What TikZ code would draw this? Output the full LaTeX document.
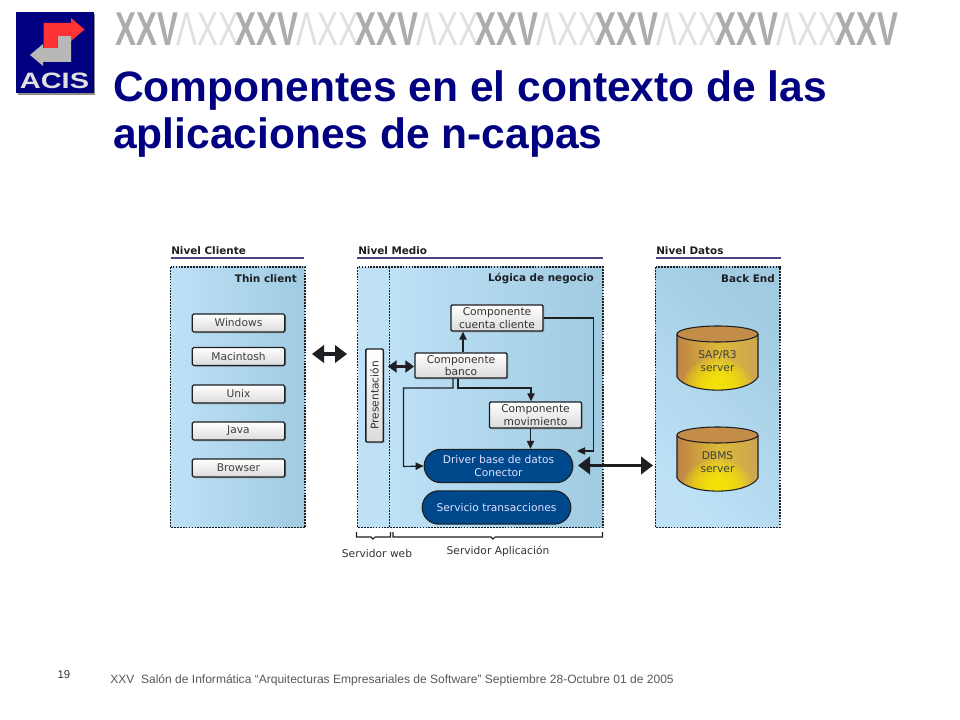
\documentclass[tikz,border=0pt]{standalone}
\usepackage{fontspec}
\setmainfont{Liberation Sans}
\newfontfamily\djv{DejaVu Sans}
\usetikzlibrary{arrows.meta,shapes.geometric,calc,shadows}
\definecolor{navy}{RGB}{0,0,128}
\definecolor{hdr}{RGB}{76,66,130}
\definecolor{pale}{RGB}{190,225,246}
\definecolor{deep}{RGB}{160,203,225}
\definecolor{ink}{RGB}{30,30,35}
\definecolor{drv}{RGB}{0,72,140}
\definecolor{brn}{RGB}{190,130,70}
\definecolor{yel}{RGB}{250,235,0}
\definecolor{tanc}{RGB}{205,165,80}
\tikzset{
 x=0.75pt,y=-0.75pt,
 panel/.style={draw=ink,line width=0.9pt,dash pattern=on 1.3pt off 0.9pt},
 hdrtxt/.style={font=\djv\bfseries\fontsize{7.8}{9}\selectfont,text=ink,anchor=base west,inner sep=0},
 cornertxt/.style={font=\djv\bfseries\fontsize{7.8}{9}\selectfont,text=ink,anchor=base east,inner sep=0},
 hdrline/.style={draw=hdr,line width=1pt},
 osbox/.style={draw=ink,line width=1pt,rounded corners=1.2pt,top color=white,bottom color=black!14,
   minimum width=69.5pt,minimum height=13.5pt,inner sep=0,text=black!75,
   font=\djv\fontsize{8}{9.5}\selectfont,drop shadow={shadow xshift=1pt,shadow yshift=-1pt,opacity=.45}},
 compbox/.style={draw=ink,line width=1pt,rounded corners=0.8pt,top color=white,bottom color=black!14,
   inner sep=0,text=black!80,align=center,font=\djv\fontsize{8}{9.5}\selectfont,
   drop shadow={shadow xshift=1pt,shadow yshift=-1pt,opacity=.45}},
 pill/.style={draw=ink,line width=0.8pt,rounded corners=12.5pt,fill=drv,text=white!88!blue,inner sep=0,
   minimum height=25pt,align=center,font=\djv\fontsize{8}{9.5}\selectfont},
 conn/.style={draw=ink,line width=0.85pt,-{Triangle[length=6pt,width=5.5pt]}},
 big/.style={draw=ink,line width=2.4pt,{Triangle[length=9pt,width=13pt]}-{Triangle[length=9pt,width=13pt]}},
 mid/.style={draw=ink,line width=1.6pt,{Triangle[length=6.5pt,width=9pt]}-{Triangle[length=6.5pt,width=9pt]}},
 brace/.style={draw=ink,line width=0.8pt},
 capt/.style={font=\djv\fontsize{8}{9.5}\selectfont,text=black!80,inner sep=0},
 dbtxt/.style={font=\djv\fontsize{8}{9.75}\selectfont,text=black!75,align=center,inner sep=0},
}
\newcommand{\dbcyl}[4]{% name, cx, top y, text
 \begin{scope}
 \clip (#2-40.5,#3) -- (#2-40.5,#3+43) .. controls (#2-30,#3+60.5) and (#2+30,#3+60.5) .. (#2+40.5,#3+43) -- (#2+40.5,#3) -- cycle;
 \shade[left color=brn,right color=tanc,middle color=tanc!70!yel] (#2-41,#3-1) rectangle (#2+41,#3+58);
 \foreach \r in {34,30,26,22,18,14,10}{\fill[yel,opacity=.22] (#2,#3+52) ellipse[x radius=\r,y radius=\r*.8];}
 \end{scope}
 \draw[ink,line width=.8pt] (#2-40.5,#3) -- (#2-40.5,#3+43) .. controls (#2-30,#3+60.5) and (#2+30,#3+60.5) .. (#2+40.5,#3+43) -- (#2+40.5,#3);
 \draw[ink,line width=.8pt,fill=brn!70!tanc] (#2,#3) ellipse[x radius=40.5,y radius=8];
 \node[dbtxt] (#1) at (#2,#3+27) {#4};
}
\begin{document}
\begin{tikzpicture}
\useasboundingbox (0,0) rectangle (960,720);
\fill[white] (0,0) rectangle (960,720);
% logo
\fill[black!45] (18,14) rectangle (95,95);
\fill[navy] (16,12) rectangle (93.5,93);
\fill[black!28] (57.5,36) -- (71,36) -- (71,62) -- (43,62) -- (43,66) -- (30,55) -- (43,44) -- (43,48) -- (57.5,48) -- cycle;
\fill[red!80!white] (43.5,23) -- (71,23) -- (71,18) -- (84.5,29.5) -- (71,41) -- (71,36) -- (57.5,36) -- (57.5,48) -- (43.5,48) -- cycle;
\node[font=\bfseries\fontsize{16.7}{17}\selectfont,text=black!12,inner sep=0] (logo) at (54.5,81) {\scalebox{1.3}[1]{ACIS}};
% banner
\foreach \i/\xx in {0/115,1/235,2/355,3/475,4/595,5/715,6/835}{
 \node[font=\bfseries\fontsize{35.6}{36}\selectfont,text=black!32,inner sep=0,anchor=base west] (bd\i) at (\xx,46) {\scalebox{.66}[1]{XXV}};
 \ifnum\i<6
 \node[font=\fontsize{35.6}{36}\selectfont,text=black!12,inner sep=0,anchor=base west] (bl\i) at (\xx+61,46) {\scalebox{.66}[1]{ΛXX}};
 \fi
}
% title
\node[anchor=base west,inner sep=0,text=navy,font=\bfseries\fontsize{31.9}{36}\selectfont] (t1) at (113,102) {Componentes en el contexto de las};
\node[anchor=base west,inner sep=0,text=navy,font=\bfseries\fontsize{31.9}{36}\selectfont] (t2) at (113,149) {aplicaciones de n-capas};
% panels
\shade[left color=pale,right color=deep] (170.5,267) rectangle (305,527.5);
\draw[panel] (170.5,267) rectangle (305,527.5);
\fill[pale] (357.5,267) rectangle (389.5,527.5);
\shade[left color=pale,right color=deep] (389.5,267) rectangle (603,527.5);
\draw[panel] (357.5,267) rectangle (603,527.5);
\draw[panel] (389.5,267) -- (389.5,527.5);
\shade[top color=deep,bottom color=pale,shading angle=-45] (655.5,267) rectangle (780,527.5);
\draw[panel] (655.5,267) rectangle (780,527.5);
% headers
\node[hdrtxt] (hc) at (171,255) {Nivel Cliente};
\draw[hdrline] (170.5,258) -- (304,258);
\node[hdrtxt] (hm) at (358,255) {Nivel Medio};
\draw[hdrline] (357,258) -- (603,258);
\node[hdrtxt] (hd) at (656,255) {Nivel Datos};
\draw[hdrline] (656,258) -- (781,258);
\node[cornertxt] (c1) at (297,282) {Thin client};
\node[cornertxt] (c2) at (594,281.5) {Lógica de negocio};
\node[cornertxt] (c3) at (775,283) {Back End};
% OS boxes
\node[osbox] (win) at (238.5,323) {Windows};
\node[osbox] (mac) at (238.5,356.5) {Macintosh};
\node[osbox] (unx) at (238.5,394) {Unix};
\node[osbox] (jav) at (238.5,431) {Java};
\node[osbox] (bro) at (238.5,468) {Browser};
% presentation
\node[compbox,rotate=90,minimum width=69.75pt,minimum height=13pt] (pre) at (374.5,395.5) {Presentación};
% components
\node[compbox,minimum width=69pt,minimum height=19.5pt] (cc) at (497,318) {Componente\\cuenta cliente};
\node[compbox,minimum width=69pt,minimum height=18.75pt] (cb) at (461,365.5) {Componente\\banco};
\node[compbox,minimum width=69pt,minimum height=19.5pt] (cm) at (535.5,415) {Componente\\movimiento};
\node[pill,minimum width=111.5pt] (drv) at (498.5,466) {Driver base de datos\\Conector};
\node[pill,minimum width=111.5pt] (srv) at (496.5,507.5) {Servicio transacciones};
% connectors
\coordinate (pa) at (388,366.5);
\coordinate (ba) at (414,366.5);
\draw[big] (312,354) -- (347,354);
\draw[mid] (pa) -- (ba);
\draw[conn] (cb.north -| 463,0) -- (cc.south -| 463,0);
\draw[conn] (cb.south -| 453,0) -- (453,388) -- (403.5,388) -- (403.5,466.5) -- (drv.west);
\draw[conn] (cb.south -| 458,0) -- (458,388) -- (531,388) -- (cm.north -| 531,0);
\draw[conn] (cm.south -| 530.5,0) -- (drv.north -| 530.5,0);
\coordinate (rr) at (577,451);
\draw[conn] (cc.east) -- (593.5,318) -- (593.5,451) -- (rr);
\coordinate (dr) at (578,465.5);
\coordinate (da) at (653,465.5);
\draw[big] (dr) -- (da);
% braces
\draw[brace] (356.5,532) -- (356.5,537) -- (371,537) -- (373,539) -- (375,537) -- (390.5,537) -- (390.5,532);
\draw[brace] (393,532) -- (393,537) -- (491,537) -- (493,539) -- (495,537) -- (602.5,537) -- (602.5,532);
\node[capt] (sw) at (377,553.5) {Servidor web};
\node[capt] (sa) at (498,551.5) {Servidor Aplicación};
% databases
\dbcyl{sap}{717.5}{334}{SAP/R3\\server}
\dbcyl{dbm}{717.5}{435}{DBMS\\server}
% footer
\node[anchor=base,inner sep=0,font=\fontsize{8.5}{9}\selectfont,text=black!80] (pg) at (64,678) {19};
\node[anchor=base west,inner sep=0,font=\fontsize{9.03}{10}\selectfont,text=black!65] (ft) at (110,683) {XXV\ \ Salón de Informática “Arquitecturas Empresariales de Software” Septiembre 28-Octubre 01 de 2005};
\end{tikzpicture}
\end{document}
